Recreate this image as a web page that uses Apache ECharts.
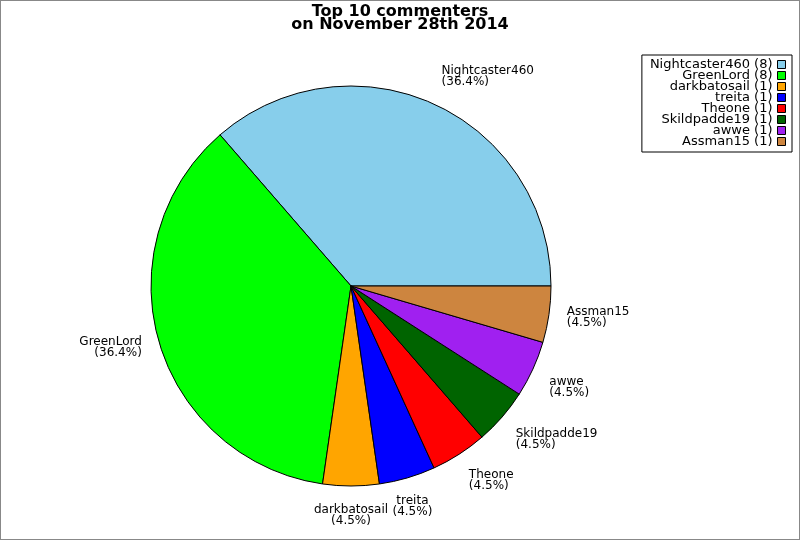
<!DOCTYPE html>
<html>
<head>
<meta charset="utf-8">
<script src="https://cdn.jsdelivr.net/npm/echarts@6/dist/echarts.min.js"></script>
<style>
  html, body { margin: 0; padding: 0; background: #fff; }
  #chart { width: 800px; height: 540px; box-sizing: border-box; border: 1px solid #888; }
</style>
</head>
<body>
<div id="chart"></div>
<script>
var titleLines = ['Top 10 commenters', 'on November 28th 2014'];
var names = ['Nightcaster460', 'GreenLord', 'darkbatosail', 'treita', 'Theone', 'Skildpadde19', 'awwe', 'Assman15'];
var counts = [8, 8, 1, 1, 1, 1, 1, 1];
var colors = ['#87CEEB', '#00FF00', '#FFA500', '#0000FF', '#FF0000', '#006400', '#A020F0', '#CD853F'];

var total = counts.reduce(function (a, b) { return a + b; }, 0);
var data = names.map(function (n, i) {
  return { name: n, value: counts[i], itemStyle: { color: colors[i] } };
});
var countByName = {};
names.forEach(function (n, i) { countByName[n] = counts[i]; });

var chart = echarts.init(document.getElementById('chart'), null, { renderer: 'canvas' });
chart.setOption({
  animation: false,
  backgroundColor: '#fff',
  title: {
    text: titleLines.join('\n'),
    left: 'center',
    top: 4,
    padding: 0,
    textStyle: { fontFamily: 'DejaVu Sans', fontSize: 16, fontWeight: 'bold', color: '#000', lineHeight: 13 }
  },
  legend: {
    orient: 'vertical',
    right: 7,
    top: 54,
    align: 'right',
    icon: 'rect',
    itemWidth: 8,
    itemHeight: 8,
    itemGap: -2,
    padding: [3, 6, 4, 8],
    borderColor: '#000',
    borderWidth: 1,
    backgroundColor: '#fff',
    itemStyle: { borderColor: '#000', borderWidth: 1 },
    textStyle: { fontFamily: 'DejaVu Sans', fontSize: 13, color: '#000', lineHeight: 11 },
    formatter: function (name) { return name + ' (' + countByName[name] + ')'; },
    data: names
  },
  series: [{
    type: 'pie',
    center: [350, 285],
    radius: 200,
    startAngle: 0,
    clockwise: false,
    avoidLabelOverlap: false,
    silent: true,
    data: data,
    itemStyle: { borderColor: '#000', borderWidth: 1 },
    label: {
      show: true,
      position: 'outside',
      fontFamily: 'DejaVu Sans',
      fontSize: 12,
      lineHeight: 11,
      color: '#000',
      formatter: function (p) {
        return p.name + '\n(' + (p.value / total * 100).toFixed(1) + '%)';
      }
    },
    labelLine: { show: true, length: 18, length2: 0, lineStyle: { opacity: 0, width: 0 } },
    labelLayout: function (params) {
      var pts = params.labelLinePoints;
      if (!pts) return {};
      var dx = pts[1][0] - pts[0][0], dy = pts[1][1] - pts[0][1];
      var len = Math.sqrt(dx * dx + dy * dy) || 1;
      dx /= len; dy /= len;
      var align = Math.abs(dx) < 0.35 ? 'center' : (dx > 0 ? 'left' : 'right');
      var va = dy > 0.35 ? 'top' : (dy < -0.35 ? 'bottom' : 'middle');
      return { x: pts[1][0], y: pts[1][1], align: align, verticalAlign: va };
    }
  }]
});
</script>
</body>
</html>
